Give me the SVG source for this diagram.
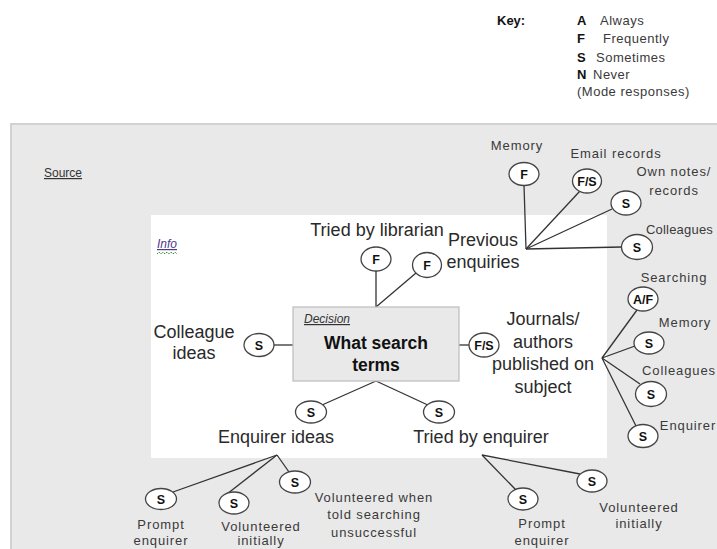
<svg xmlns="http://www.w3.org/2000/svg" width="717" height="549" viewBox="0 0 717 549">
<style>
text{font-family:"Liberation Sans",Arial,sans-serif;}
.big{font-size:18px;fill:#2a2a2a;text-anchor:middle;}
.sm{font-size:13px;fill:#3a3a3a;letter-spacing:0.9px;text-anchor:middle;}
.key{font-size:13px;fill:#3a3a3a;letter-spacing:0.5px;}
.kb{font-size:13px;font-weight:bold;fill:#111;}
.nd ellipse{fill:#fff;stroke:#444;stroke-width:1.3;}
.nd text{font-size:12.5px;font-weight:bold;fill:#111;text-anchor:middle;}
#connectors line{stroke:#333;stroke-width:1.3;}
</style>
<rect x="0" y="0" width="717" height="549" fill="#fff"/>
<rect x="11" y="124" width="720" height="440" fill="#e9e9e9" stroke="#d2d2d2" stroke-width="2"/>
<rect x="151" y="215" width="456" height="243" fill="#fff"/>
<g id="key">
<text class="kb" x="497" y="25">Key:</text>
<text class="kb" x="577" y="25">A</text><text class="key" x="600" y="25">Always</text>
<text class="kb" x="577" y="43">F</text><text class="key" x="603" y="43">Frequently</text>
<text class="kb" x="577" y="62">S</text><text class="key" x="596" y="62">Sometimes</text>
<text class="kb" x="577" y="79">N</text><text class="key" x="593" y="79">Never</text>
<text class="key" x="577" y="96">(Mode responses)</text>
</g>
<g id="source"><text x="44" y="177" style="font-size:12px;fill:#333;text-decoration:underline">Source</text></g>
<g id="info"><text x="157" y="248" style="font-size:12px;font-style:italic;fill:#4a3a8a;text-decoration:underline">Info</text>
<path d="M157 254 l2 -2 l2 2 l2 -2 l2 2 l2 -2 l2 2 l2 -2 l2 2 l2 -2 l2 2" fill="none" stroke="#2a8a2a" stroke-width="1" stroke-dasharray="1.5 1"/></g>
<g id="connectors">
<line x1="526" y1="249" x2="524" y2="185"/>
<line x1="526" y1="249" x2="580" y2="191"/>
<line x1="526" y1="249" x2="612" y2="209"/>
<line x1="526" y1="249" x2="622" y2="247"/>
<line x1="376" y1="307" x2="376" y2="271"/>
<line x1="376" y1="307" x2="416" y2="273"/>
<line x1="274" y1="345" x2="293" y2="345"/>
<line x1="459" y1="345" x2="469" y2="345"/>
<line x1="376" y1="381" x2="322" y2="405"/>
<line x1="376" y1="381" x2="430" y2="406"/>
<line x1="602" y1="358" x2="637" y2="310"/>
<line x1="602" y1="358" x2="635" y2="346"/>
<line x1="602" y1="358" x2="640" y2="384"/>
<line x1="602" y1="358" x2="636" y2="426"/>
<line x1="277" y1="455" x2="173" y2="492"/>
<line x1="277" y1="455" x2="227" y2="494"/>
<line x1="277" y1="455" x2="289" y2="472"/>
<line x1="482" y1="455" x2="516" y2="490"/>
<line x1="482" y1="455" x2="580" y2="474"/>
</g>
<g id="decision">
<rect x="293" y="307" width="166" height="74" fill="#e9e9e9" stroke="#bdbdbd" stroke-width="1.2"/>
<text x="304" y="323" style="font-size:12px;font-style:italic;fill:#333;text-decoration:underline">Decision</text>
<text x="376" y="349" style="font-size:17.5px;font-weight:bold;fill:#111;text-anchor:middle">What search</text>
<text x="376" y="371" style="font-size:17.5px;font-weight:bold;fill:#111;text-anchor:middle">terms</text>
</g>
<g id="previous-enquiries"><text class="big" x="483" y="246">Previous</text><text class="big" x="483" y="268">enquiries</text></g>
<g id="memory-1" class="nd"><ellipse cx="524" cy="174" rx="15" ry="11.5"/><text x="524" y="179">F</text></g>
<g id="memory-1-label"><text class="sm" x="517" y="150">Memory</text></g>
<g id="email-records" class="nd"><ellipse cx="587" cy="181" rx="14.5" ry="12"/><text x="587" y="186">F/S</text></g>
<g id="email-records-label"><text class="sm" x="616" y="158">Email records</text></g>
<g id="own-notes" class="nd"><ellipse cx="626" cy="203" rx="15" ry="12"/><text x="626" y="208">S</text></g>
<g id="own-notes-label"><text class="sm" x="674" y="176">Own notes/</text><text class="sm" x="674" y="195">records</text></g>
<g id="colleagues-1" class="nd"><ellipse cx="637" cy="247" rx="15.5" ry="12.5"/><text x="637" y="252">S</text></g>
<g id="colleagues-1-label"><text x="646" y="234" style="font-size:13px;fill:#3a3a3a;letter-spacing:0.2px">Colleagues</text></g>
<g id="tried-by-librarian"><text class="big" x="377" y="236">Tried by librarian</text></g>
<g id="librarian-f1" class="nd"><ellipse cx="376" cy="259" rx="15" ry="12"/><text x="376" y="264">F</text></g>
<g id="librarian-f2" class="nd"><ellipse cx="427" cy="265" rx="14.5" ry="12.5"/><text x="427" y="270">F</text></g>
<g id="colleague-ideas"><text class="big" x="194" y="338">Colleague</text><text class="big" x="194" y="359">ideas</text></g>
<g id="colleague-ideas-node" class="nd"><ellipse cx="259" cy="345" rx="15" ry="11.5"/><text x="259" y="350">S</text></g>
<g id="journals-node" class="nd"><ellipse cx="484" cy="345" rx="15" ry="12"/><text x="484" y="350">F/S</text></g>
<g id="journals"><text class="big" x="543" y="325">Journals/</text><text class="big" x="543" y="348">authors</text><text class="big" x="543" y="370">published on</text><text class="big" x="543" y="393">subject</text></g>
<g id="searching" class="nd"><ellipse cx="643" cy="299" rx="15" ry="12"/><text x="643" y="304">A/F</text></g>
<g id="searching-label"><text class="sm" x="674" y="282">Searching</text></g>
<g id="memory-2" class="nd"><ellipse cx="649" cy="343" rx="15" ry="11"/><text x="649" y="348">S</text></g>
<g id="memory-2-label"><text class="sm" x="685" y="327">Memory</text></g>
<g id="colleagues-2" class="nd"><ellipse cx="651" cy="394" rx="15.5" ry="12.5"/><text x="651" y="399">S</text></g>
<g id="colleagues-2-label"><text class="sm" x="679" y="375">Colleagues</text></g>
<g id="enquirer" class="nd"><ellipse cx="643" cy="436" rx="15" ry="11.5"/><text x="643" y="441">S</text></g>
<g id="enquirer-label"><text class="sm" x="688" y="430">Enquirer</text></g>
<g id="enq-ideas-node" class="nd"><ellipse cx="311" cy="412" rx="15.5" ry="11"/><text x="311" y="417">S</text></g>
<g id="tried-enq-node" class="nd"><ellipse cx="439" cy="412" rx="15.5" ry="11"/><text x="439" y="417">S</text></g>
<g id="enquirer-ideas"><text class="big" x="276" y="443">Enquirer ideas</text></g>
<g id="tried-by-enquirer"><text class="big" x="481" y="443">Tried by enquirer</text></g>
<g id="ei-prompt" class="nd"><ellipse cx="161" cy="499" rx="15.5" ry="10.5"/><text x="161" y="504">S</text></g>
<g id="ei-prompt-label"><text class="sm" x="161" y="529">Prompt</text><text class="sm" x="161" y="545">enquirer</text></g>
<g id="ei-vol" class="nd"><ellipse cx="234" cy="503" rx="15" ry="11"/><text x="234" y="508">S</text></g>
<g id="ei-vol-label"><text class="sm" x="261" y="531">Volunteered</text><text class="sm" x="261" y="545">initially</text></g>
<g id="ei-told" class="nd"><ellipse cx="295" cy="482" rx="15.5" ry="11"/><text x="295" y="487">S</text></g>
<g id="ei-told-label"><text class="sm" x="374" y="502">Volunteered when</text><text class="sm" x="374" y="519">told searching</text><text class="sm" x="374" y="537">unsuccessful</text></g>
<g id="te-prompt" class="nd"><ellipse cx="523" cy="499" rx="15" ry="11"/><text x="523" y="504">S</text></g>
<g id="te-prompt-label"><text class="sm" x="542" y="528">Prompt</text><text class="sm" x="542" y="545">enquirer</text></g>
<g id="te-vol" class="nd"><ellipse cx="592" cy="481" rx="15" ry="11"/><text x="592" y="486">S</text></g>
<g id="te-vol-label"><text class="sm" x="639" y="512">Volunteered</text><text class="sm" x="639" y="528">initially</text></g>
</svg>
